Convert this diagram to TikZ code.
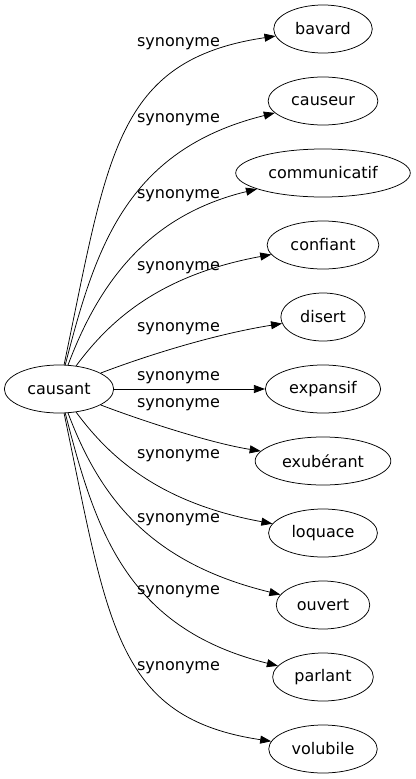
\documentclass[tikz,border=0pt]{standalone}
\usepackage{fontspec}
\setmainfont{DejaVu Sans}
\usetikzlibrary{shapes.geometric,arrows.meta}
\begin{document}
\begin{tikzpicture}[x=1pt,y=-1pt,
  every node/.style={font=\fontsize{16}{19}\selectfont},
  word/.style={draw, ellipse, line width=0.75pt, inner xsep=7pt, inner ysep=2pt, minimum height=48pt},
  lbl/.style={inner sep=0pt},
  rel/.style={line width=0.75pt, -{Triangle[length=11pt,width=8pt]}}]
\useasboundingbox (0,0) rectangle (415,779);
\node[word] (causant) at (59,389) {causant};
\node[word] (bavard) at (323,29) {bavard};
\node[word] (causeur) at (323,101) {causeur};
\node[word] (communicatif) at (323,173) {communicatif};
\node[word] (confiant) at (323,245) {confiant};
\node[word] (disert) at (323,317) {disert};
\node[word] (expansif) at (323,389) {expansif};
\node[word] (exuberant) at (323,461) {exubérant};
\node[word] (loquace) at (323,533) {loquace};
\node[word] (ouvert) at (323,605) {ouvert};
\node[word] (parlant) at (323,677) {parlant};
\node[word] (volubile) at (323,749) {volubile};

\draw[rel] (causant) .. controls (108,155) and (115,60) .. (bavard);
\draw[rel] (causant) .. controls (95,250) and (125,150) .. (causeur);
\draw[rel] (causant) .. controls (100,280) and (150,215) .. (communicatif);
\draw[rel] (causant) .. controls (110,320) and (160,275) .. (confiant);
\draw[rel] (causant) .. controls (140,358) and (210,335) .. (disert);
\draw[rel] (causant) -- (expansif);
\draw[rel] (causant) .. controls (140,420) and (210,443) .. (exuberant);
\draw[rel] (causant) .. controls (110,458) and (160,503) .. (loquace);
\draw[rel] (causant) .. controls (100,498) and (150,563) .. (ouvert);
\draw[rel] (causant) .. controls (95,528) and (125,628) .. (parlant);
\draw[rel] (causant) .. controls (108,623) and (115,718) .. (volubile);

\node[lbl] (l1) at (178.5,44) {synonyme};
\node[lbl] (l2) at (178.5,120) {synonyme};
\node[lbl] (l3) at (178.5,196) {synonyme};
\node[lbl] (l4) at (178.5,268) {synonyme};
\node[lbl] (l5) at (178.5,329) {synonyme};
\node[lbl] (l6) at (178.5,378) {synonyme};
\node[lbl] (l7) at (178.5,405) {synonyme};
\node[lbl] (l8) at (178.5,456) {synonyme};
\node[lbl] (l9) at (178.5,520) {synonyme};
\node[lbl] (l10) at (178.5,592) {synonyme};
\node[lbl] (l11) at (178.5,668) {synonyme};
\end{tikzpicture}
\end{document}
